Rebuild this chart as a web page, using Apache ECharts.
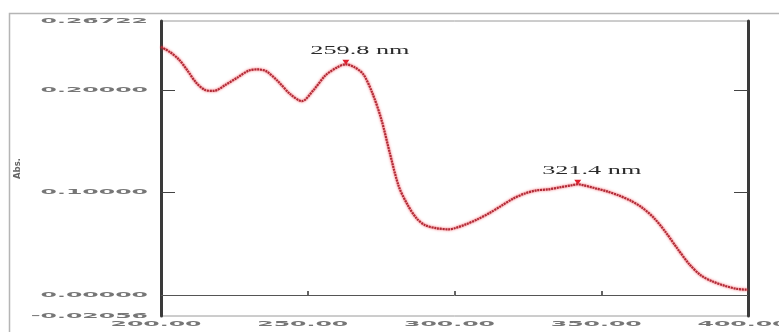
<!DOCTYPE html>
<html>
<head>
<meta charset="utf-8">
<script src="https://cdn.jsdelivr.net/npm/echarts@6/dist/echarts.min.js"></script>
<style>
  html, body { margin: 0; padding: 0; background: #ffffff; }
  #chart { width: 779px; height: 332px; }
</style>
</head>
<body>
<div id="chart"></div>
<script>
// UV-Vis absorption spectrum (wavelength in nm, absorbance)
const wavelengths = [200, 203, 206, 209, 212, 215, 218, 222, 226, 230, 233, 236, 240, 244, 248,
  252, 256, 260, 263, 266, 269, 272, 275, 278, 281, 284, 287, 290, 294, 298, 300, 304, 308,
  312, 316, 320, 324, 328, 332, 336, 340, 342, 344, 348, 352, 356, 360, 364, 368, 372, 376,
  380, 384, 388, 392, 396, 400];
const absorbance = [0.242, 0.237, 0.230, 0.219, 0.207, 0.200, 0.199, 0.205, 0.212, 0.219, 0.220,
  0.218, 0.208, 0.196, 0.189, 0.200, 0.214, 0.222, 0.225, 0.222, 0.215, 0.197, 0.172, 0.138,
  0.106, 0.088, 0.075, 0.068, 0.065, 0.064, 0.065, 0.069, 0.074, 0.080, 0.087, 0.094, 0.099,
  0.102, 0.103, 0.105, 0.107, 0.108, 0.107, 0.104, 0.101, 0.097, 0.092, 0.085, 0.075, 0.061,
  0.045, 0.030, 0.019, 0.013, 0.009, 0.006, 0.005];

// axis range and tick labels
const xMin = 200, xMax = 400;
const yMin = -0.02056, yMax = 0.26722;
const xTicks = [200, 250, 300, 350, 400];
const xTickLabels = ['200.00', '250.00', '300.00', '350.00', '400.00'];
const yTicks = [-0.02056, 0, 0.1, 0.2, 0.26722];
const yTickLabels = ['-0.02056', '0.00000', '0.10000', '0.20000', '0.26722'];
const innerTicksY = [0.1, 0.2];
const innerTicksX = [250, 300, 350];

// picked peaks: wavelength of the data point and its annotation
const peakWavelengths = [263, 342];
const peakLabels = ['259.8 nm', '321.4 nm'];

const xName = 'nm';
const yName = 'Abs.';

const series = wavelengths.map((w, i) => [w, absorbance[i]]);
const peakPoints = peakWavelengths.map(w => [w, absorbance[wavelengths.indexOf(w)]]);

const chart = echarts.init(document.getElementById('chart'), null, { renderer: 'canvas' });

chart.setOption({
  animation: false,
  backgroundColor: '#ffffff',
  grid: {
    left: 161, right: 31, top: 21, bottom: 16,
    show: true, borderColor: '#9a9a9a', borderWidth: 1, backgroundColor: 'transparent'
  },
  xAxis: [{
    type: 'value', min: xMin, max: xMax, position: 'bottom',
    axisLine: { show: false },
    axisTick: { show: true, inside: true, length: 4, customValues: innerTicksX,
      lineStyle: { color: '#333', width: 1.5 } },
    axisLabel: { show: false },
    splitLine: { show: false }
  }],
  yAxis: [{
    type: 'value', min: yMin, max: yMax, position: 'left',
    name: yName, nameLocation: 'middle', nameGap: 139, nameRotate: 90,
    nameTextStyle: { fontSize: 8.5, fontWeight: 'bold', color: '#666', fontFamily: 'DejaVu Sans' },
    axisLine: { show: true, onZero: false, lineStyle: { color: '#3a3a3a', width: 3 } },
    axisTick: { show: true, inside: true, length: 14, customValues: innerTicksY,
      lineStyle: { color: '#444', width: 1 } },
    axisLabel: { show: false },
    splitLine: { show: false }
  }, {
    type: 'value', min: yMin, max: yMax, position: 'right',
    axisLine: { show: true, onZero: false, lineStyle: { color: '#3a3a3a', width: 3 } },
    axisTick: { show: true, inside: true, length: 14, customValues: innerTicksY,
      lineStyle: { color: '#444', width: 1 } },
    axisLabel: { show: false },
    splitLine: { show: false }
  }],
  series: [{
    type: 'line',
    data: series,
    smooth: 0.3,
    showSymbol: false,
    lineStyle: {
      color: '#b02a36', width: 2.2, type: [2, 0.8],
      shadowColor: 'rgba(235, 45, 55, 1)', shadowBlur: 2.5
    },
    markLine: {
      silent: true, symbol: 'none', label: { show: false },
      lineStyle: { color: '#555', width: 1, type: 'solid' },
      data: [{ yAxis: 0 }]
    },
    markPoint: {
      silent: true,
      symbol: 'triangle', symbolRotate: 180, symbolSize: [7, 5], symbolOffset: [0, -2],
      itemStyle: { color: '#e0202e' },
      label: { show: false },
      data: peakPoints.map(p => ({ coord: p }))
    }
  }]
});

// stretched tick labels and annotations placed through the axis scales
const labelFont = { fontSize: 8, fontWeight: 'bold', fontFamily: 'DejaVu Sans' };
const labelColor = '#767676';
const graphics = [];

// outer frame
graphics.push({
  type: 'rect', silent: true, z: -1,
  shape: { x: 9.5, y: 13.5, width: 800, height: 400 },
  style: { fill: 'none', stroke: '#b5b5b5', lineWidth: 1.5 }
});

const yLabelRight = chart.convertToPixel({ xAxisIndex: 0 }, xMin) - 13;
yTicks.forEach((v, i) => {
  const py = chart.convertToPixel({ yAxisIndex: 0 }, v);
  graphics.push({
    type: 'text', silent: true, x: yLabelRight, y: py, scaleX: 2.95, scaleY: 0.85,
    style: Object.assign({ text: yTickLabels[i], fill: labelColor,
      align: 'right', verticalAlign: 'middle', textAlign: 'right', textVerticalAlign: 'middle' }, labelFont)
  });
});

const xLabelY = chart.convertToPixel({ yAxisIndex: 0 }, yMin) + 8;
xTicks.forEach((v, i) => {
  const px = chart.convertToPixel({ xAxisIndex: 0 }, v) - 5;
  graphics.push({
    type: 'text', silent: true, x: px, y: xLabelY, scaleX: 2.95, scaleY: 0.85,
    style: Object.assign({ text: xTickLabels[i], fill: labelColor,
      align: 'center', verticalAlign: 'middle', textAlign: 'center', textVerticalAlign: 'middle' }, labelFont)
  });
});

// x-axis title, below the tick labels
graphics.push({
  type: 'text', silent: true,
  x: chart.convertToPixel({ xAxisIndex: 0 }, (xMin + xMax) / 2) - 12, y: xLabelY + 8,
  scaleX: 2.6, scaleY: 0.85,
  style: Object.assign({ text: xName, fill: labelColor,
    align: 'center', verticalAlign: 'top', textAlign: 'center', textVerticalAlign: 'top' }, labelFont)
});

// peak annotations
peakPoints.forEach((p, i) => {
  const [px, py] = chart.convertToPixel({ seriesIndex: 0 }, p);
  graphics.push({
    type: 'text', silent: true, x: px + 14, y: py - 7, scaleX: 2.1, scaleY: 1,
    style: { text: peakLabels[i], fill: '#2b2b2b', fontSize: 12.5,
      fontFamily: '"Liberation Serif", "DejaVu Serif", serif',
      align: 'center', verticalAlign: 'bottom', textAlign: 'center', textVerticalAlign: 'bottom' }
  });
});

chart.setOption({ graphic: { elements: graphics } });
</script>
</body>
</html>
